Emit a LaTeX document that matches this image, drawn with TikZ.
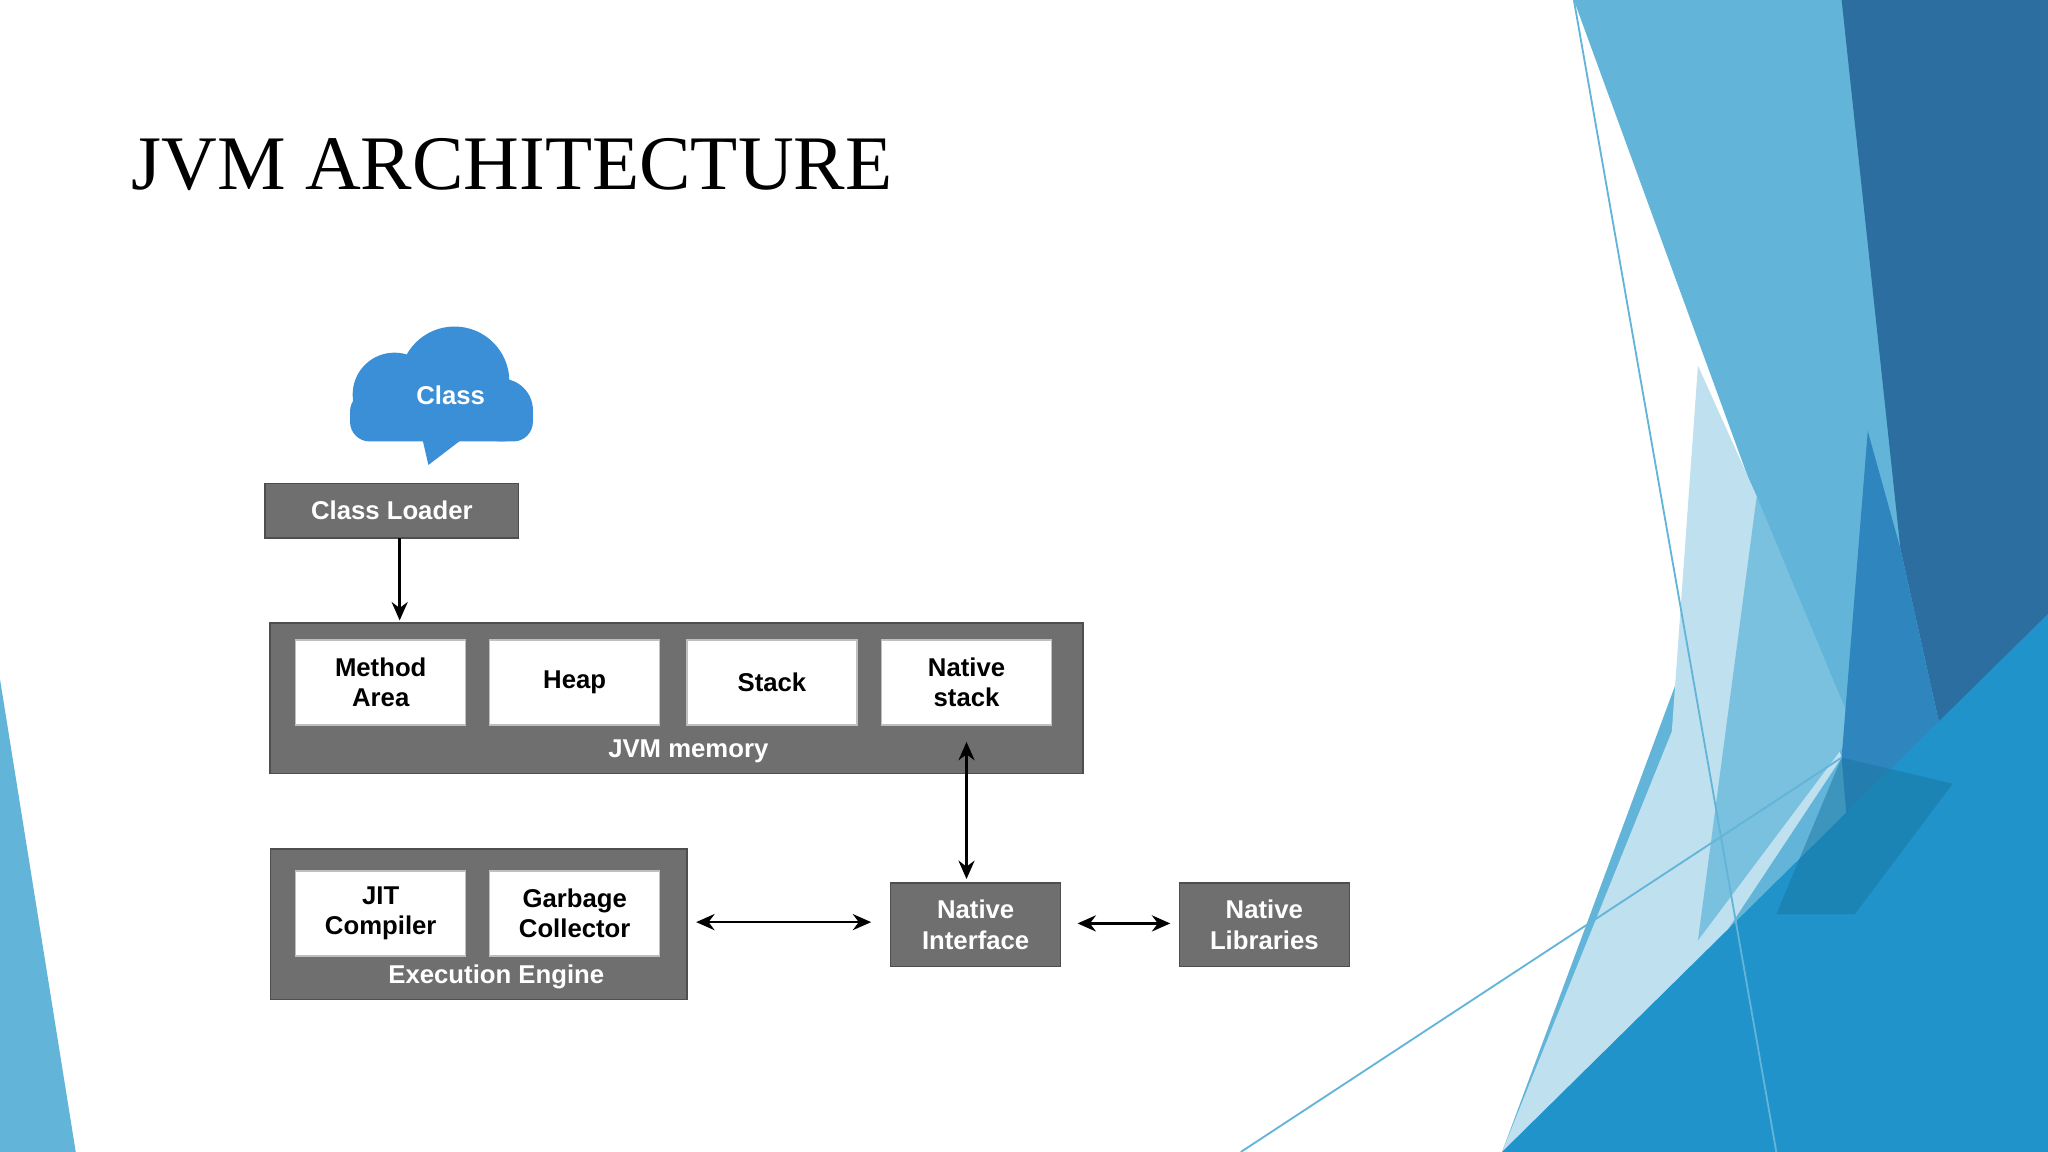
\documentclass[tikz,border=0pt]{standalone}
\usepackage{fontspec}
\setmainfont{Liberation Serif}
\newfontfamily\boxfont{Liberation Sans}
\usetikzlibrary{arrows.meta}
\definecolor{gbox}{HTML}{6F6F6F}
\definecolor{cloudb}{HTML}{3A8FD6}
\definecolor{lb}{HTML}{62B5D9}
\definecolor{pb}{HTML}{BFE0EE}
\definecolor{db}{HTML}{2B6E9F}
\definecolor{mb}{HTML}{1F93CA}
\definecolor{mb2}{HTML}{2F86BE}
\begin{document}
\begin{tikzpicture}[x=0.01cm,y=-0.01cm,
  outer/.style={fill=gbox,draw=gbox!70!black,line width=0.3pt,inner sep=0},
  inner/.style={fill=white,draw=black!25,line width=0.3pt,inner sep=0,font=\boxfont\bfseries\fontsize{5.6pt}{6.6pt}\selectfont,align=center,minimum width=1.3cm,minimum height=0.65cm},
  glab/.style={text=white,font=\boxfont\bfseries\fontsize{5.6pt}{6.6pt}\selectfont,align=center},
  arr/.style={line width=0.6pt,-{Stealth[length=4pt,width=3.5pt]}},
  darr/.style={line width=0.6pt,{Stealth[length=4pt,width=3.5pt]}-{Stealth[length=4pt,width=3.5pt]}}]
\useasboundingbox (0,0) rectangle (1568,882);
\fill[white] (0,0) rectangle (1568,882);
% background decoration
\fill[lb] (1205,0) -- (1568,0) -- (1568,882) -- (1150,882) -- (1340,370) -- cycle;
\fill[pb] (1300,280) -- (1345,380) -- (1410,580) -- (1210,882) -- (1150,882) -- (1280,560) -- cycle;
\fill[lb!85!white] (1345,380) -- (1420,560) -- (1300,720) -- cycle;
\fill[db] (1410,0) -- (1568,0) -- (1568,480) -- (1495,600) -- (1455,420) -- cycle;
\fill[mb2] (1430,330) -- (1455,420) -- (1495,600) -- (1420,700) -- (1410,580) -- cycle;
\fill[mb] (1150,882) -- (1568,470) -- (1568,882) -- cycle;
\fill[mb!80!black,opacity=0.5] (1410,580) -- (1495,600) -- (1420,700) -- (1360,700) -- cycle;
\draw[lb,line width=0.4pt] (1205,0) -- (1360,882);
\draw[lb,line width=0.4pt] (950,882) -- (1410,580);
\fill[lb] (0,520) -- (58,882) -- (0,882) -- cycle;
% title
\node[anchor=base west,inner sep=0,font=\fontsize{16.8pt}{20pt}\selectfont] (title) at (100,145) {JVM ARCHITECTURE};
% cloud
\fill[cloudb] (348,292) circle (42) (302,302) circle (32) (384,314) circle (24);
\fill[cloudb,rounded corners=0.15cm] (268,300) rectangle (408,338);
\fill[cloudb] (322,330) -- (362,330) -- (328,356) -- cycle;
\node[glab] (class) at (345,303) {Class};
% class loader
\node[outer,minimum width=1.94cm,minimum height=0.42cm] (cl) at (300,391) {};
\node[glab] at (cl) {Class Loader};
% JVM memory
\node[outer,minimum width=6.22cm,minimum height=1.15cm] (mem) at (518,534.5) {};
\node[glab] (memlab) at (527,575) {JVM memory};
\node[inner] (ma) at (291.5,522.5) {Method\\Area};
\node[inner] (heap) at (440,522.5) {Heap};
\node[inner] (stack) at (591,522.5) {Stack};
\node[inner] (ns) at (740,522.5) {Native\\stack};
% execution engine
\node[outer,minimum width=3.19cm,minimum height=1.15cm] (ee) at (366.5,707.5) {};
\node[glab] (eelab) at (380,748) {Execution Engine};
\node[inner] (jit) at (291.5,699.5) {JIT\\Compiler};
\node[inner] (gc) at (440,699.5) {Garbage\\Collector};
% native
\node[outer,minimum width=1.3cm,minimum height=0.64cm] (ni) at (747,708) {};
\node[glab] at (ni) {Native\\Interface};
\node[outer,minimum width=1.3cm,minimum height=0.64cm] (nl) at (968,708) {};
\node[glab] at (nl) {Native\\Libraries};
% arrows
\coordinate (clb) at (306,412);
\coordinate (memt) at (306,475);
\draw[arr] (clb) -- (memt);
\coordinate (nsb) at (740,568);
\coordinate (nit) at (740,673);
\draw[darr] (nsb) -- (nit);
\coordinate (eer) at (533,706);
\coordinate (nil) at (667,706);
\draw[darr] (eer) -- (nil);
\coordinate (nir) at (825,707);
\coordinate (nll) at (896,707);
\draw[darr] (nir) -- (nll);
\end{tikzpicture}
\end{document}
